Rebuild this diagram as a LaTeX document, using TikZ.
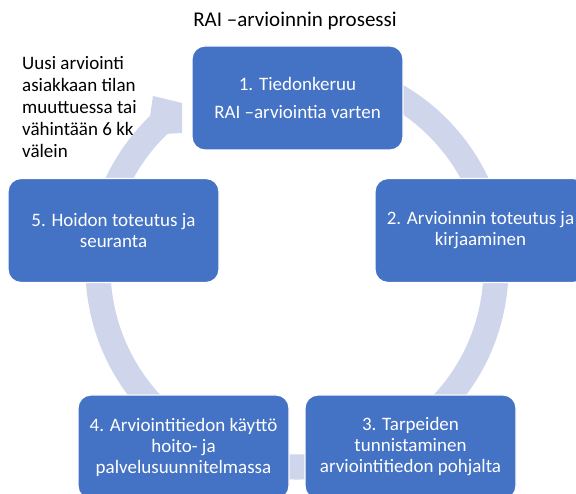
\documentclass[tikz,border=0pt]{standalone}
\usepackage{fontspec}
\setmainfont{Carlito}
\definecolor{boxblue}{HTML}{4472C4}
\definecolor{ringblue}{HTML}{CFD5EA}
\tikzset{phase/.style={draw=white,line width=1.2pt,fill=boxblue,rounded corners=13pt,
  minimum width=211pt,minimum height=104pt,inner sep=2pt,align=center,text=white,
  font=\fontsize{19}{21}\selectfont}}

\begin{document}
\begin{tikzpicture}[x=1pt,y=-1pt]
\clip (0,0) rectangle (576,494);
\coordinate (hub) at (297,268);
% ring with head at the upper left
\fill[ringblue] ([shift={(-80:211.5)}]hub) arc[start angle=-80,end angle=226,radius=211.5]
  -- (153,96) -- (182,103) -- (182,133) -- ([shift={(226:186.5)}]hub)
  arc[start angle=226,end angle=-80,radius=186.5] -- cycle;
\node (title) at (295,21) {\fontsize{21}{25}\selectfont RAI –arvioinnin prosessi};
\node[anchor=base west,align=left,inner sep=0pt,font=\fontsize{19}{22}\selectfont] (note) at (22,158)
  {Uusi arviointi\\asiakkaan tilan\\muuttuessa tai\\vähintään 6 kk\\välein};
% the five steps
\node[phase] (s1) at (297.5,98) {1. Tiedonkeruu\\[7pt]RAI –arviointia varten};
\node[phase] (s2) at (480.5,230.5) {2. Arvioinnin toteutus ja\\kirjaaminen};
\node[phase] (s3) at (410.5,447) {3. Tarpeiden\\tunnistaminen\\arviointitiedon pohjalta};
\node[phase] (s4) at (183.5,447) {4. Arviointitiedon käyttö\\hoito- ja\\palvelusuunnitelmassa};
\node[phase] (s5) at (113.5,230.5) {5. Hoidon toteutus ja\\seuranta};
\end{tikzpicture}
\end{document}
